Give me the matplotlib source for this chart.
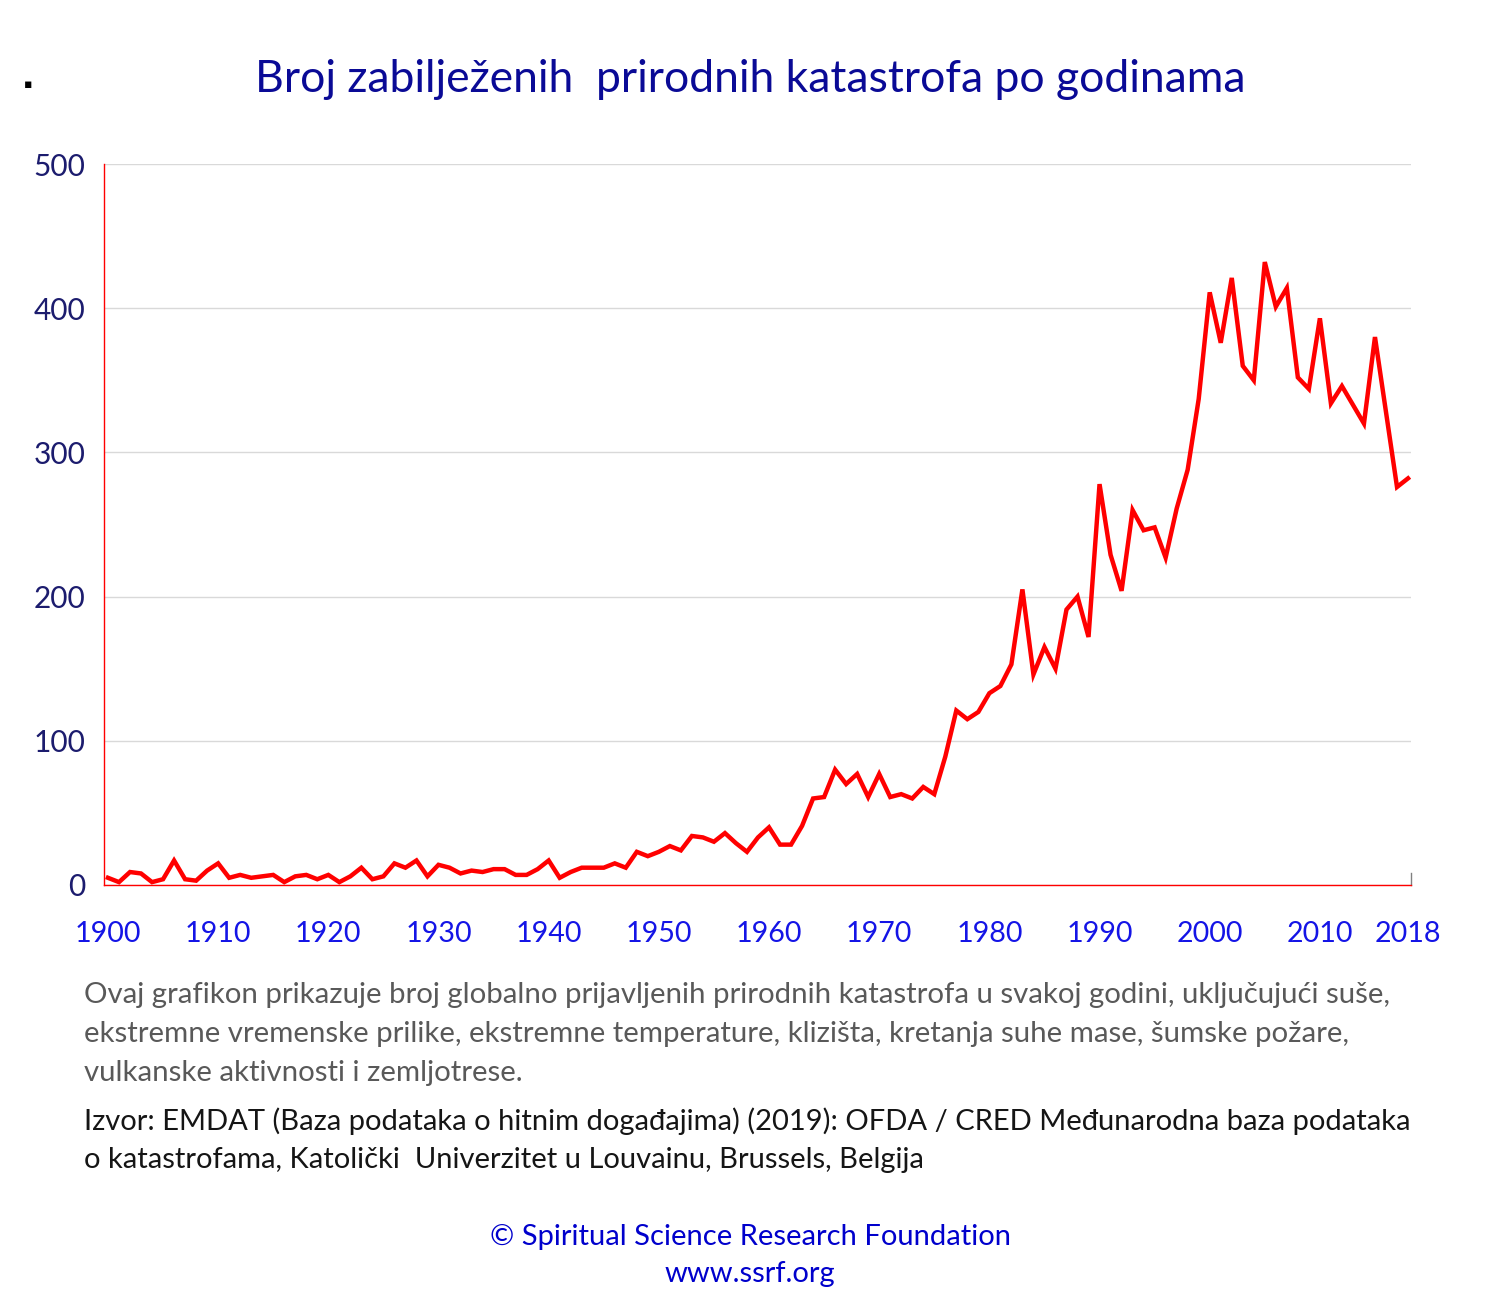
# -*- coding: utf-8 -*-
"""
Broj zabilježenih prirodnih katastrofa po godinama (1900-2018)
"""
import matplotlib
matplotlib.use("Agg")
import matplotlib.pyplot as plt
import numpy as np

# =============================================================================
# DATA
# =============================================================================
years = list(range(1900, 2019))
disasters = [
    5, 2, 9, 8, 2, 4, 17, 4, 3, 10,           # 1900-1909
    15, 5, 7, 5, 6, 7, 2, 6, 7, 4,            # 1910-1919
    7, 2, 6, 12, 4, 6, 15, 12, 17, 6,         # 1920-1929
    14, 12, 8, 10, 9, 11, 11, 7, 7, 11,       # 1930-1939
    17, 5, 9, 12, 12, 12, 15, 12, 23, 20,     # 1940-1949
    23, 27, 24, 34, 33, 30, 36, 29, 23, 33,   # 1950-1959
    40, 28, 28, 41, 60, 61, 80, 70, 77, 61,   # 1960-1969
    77, 61, 63, 60, 68, 63, 89, 121, 115, 120,  # 1970-1979
    133, 138, 153, 205, 146, 165, 150, 191, 200, 172,  # 1980-1989
    278, 229, 204, 260, 246, 248, 227, 261, 288, 337,  # 1990-1999
    411, 376, 421, 360, 350, 432, 401, 414, 352, 344,  # 2000-2009
    393, 334, 346, 333, 320, 380, 328, 276, 282,       # 2010-2018
]
x_ticks = [1900, 1910, 1920, 1930, 1940, 1950, 1960, 1970, 1980, 1990, 2000, 2010, 2018]
y_ticks = [0, 100, 200, 300, 400, 500]

title = "Broj zabilježenih  prirodnih katastrofa po godinama"
desc_lines = [
    "Ovaj grafikon prikazuje broj globalno prijavljenih prirodnih katastrofa u svakoj godini, uključujući suše,",
    "ekstremne vremenske prilike, ekstremne temperature, klizišta, kretanja suhe mase, šumske požare,",
    "vulkanske aktivnosti i zemljotrese.",
]
source_lines = [
    "Izvor: EMDAT (Baza podataka o hitnim događajima) (2019): OFDA / CRED Međunarodna baza podataka",
    "o katastrofama, Katolički  Univerzitet u Louvainu, Brussels, Belgija",
]
footer_lines = ["© Spiritual Science Research Foundation", "www.ssrf.org"]

# =============================================================================
# FIGURE
# =============================================================================
W, H = 1500, 1299
plt.rcParams['font.family'] = ['Lato', 'DejaVu Sans']
fig = plt.figure(figsize=(W / 100, H / 100), dpi=100)


def px(x, y):
    # pixel coords (top-left origin) -> figure fraction
    return x / W, 1 - y / H


ax_left, ax_right, ax_top, ax_bottom = 104, 1411, 164, 885
ax = fig.add_axes([ax_left / W, 1 - ax_bottom / H,
                   (ax_right - ax_left) / W, (ax_bottom - ax_top) / H])

ax.plot(years, disasters, color='#ff0000', linewidth=3.2, solid_joinstyle='miter')

ax.set_xlim(1899.64, 2018.27)
ax.set_ylim(0, 500)
ax.set_xticks(x_ticks)
ax.set_yticks(y_ticks)
ax.set_xticklabels([str(t) for t in x_ticks], fontsize=20.6, color='#1414e6')
ax.set_yticklabels([str(t) for t in y_ticks], fontsize=21.5, color='#1c1c6e')
ax.tick_params(axis='both', length=0)
ax.tick_params(axis='x', pad=26)
ax.tick_params(axis='y', pad=13.5)

ax.grid(axis='y', color='#d9d9d9', linewidth=1)
ax.set_axisbelow(True)
for side in ['top', 'right']:
    ax.spines[side].set_visible(False)
for side in ['left', 'bottom']:
    ax.spines[side].set_color('#ff0000')
    ax.spines[side].set_linewidth(1)
# small grey tick at the right end of the x axis
ax.plot([1, 1], [0, 0.017], transform=ax.transAxes, color='#808080',
        linewidth=1, clip_on=False)

# =============================================================================
# TEXT
# =============================================================================
fig.text(*px(750, 80), title, ha='center', va='center', fontsize=32, color='#0a0a96')
fig.text(*px(28, 84), '▪', ha='center', va='center', fontsize=9, color='black',
         family=['DejaVu Sans'])

for i, line in enumerate(desc_lines):
    fig.text(*px(84, 1003 + i * 39), line, ha='left', va='baseline',
             fontsize=21.2, color='#595959')
for i, line in enumerate(source_lines):
    fig.text(*px(84, 1130 + i * 38), line, ha='left', va='baseline',
             fontsize=21.0, color='#151515')

fig.text(*px(750, 1237), footer_lines[0], ha='center', va='center', fontsize=21, color='#0000cc')
fig.text(*px(750, 1274), footer_lines[1], ha='center', va='center', fontsize=21, color='#0000cc')

plt.savefig('out.png', dpi=100)
